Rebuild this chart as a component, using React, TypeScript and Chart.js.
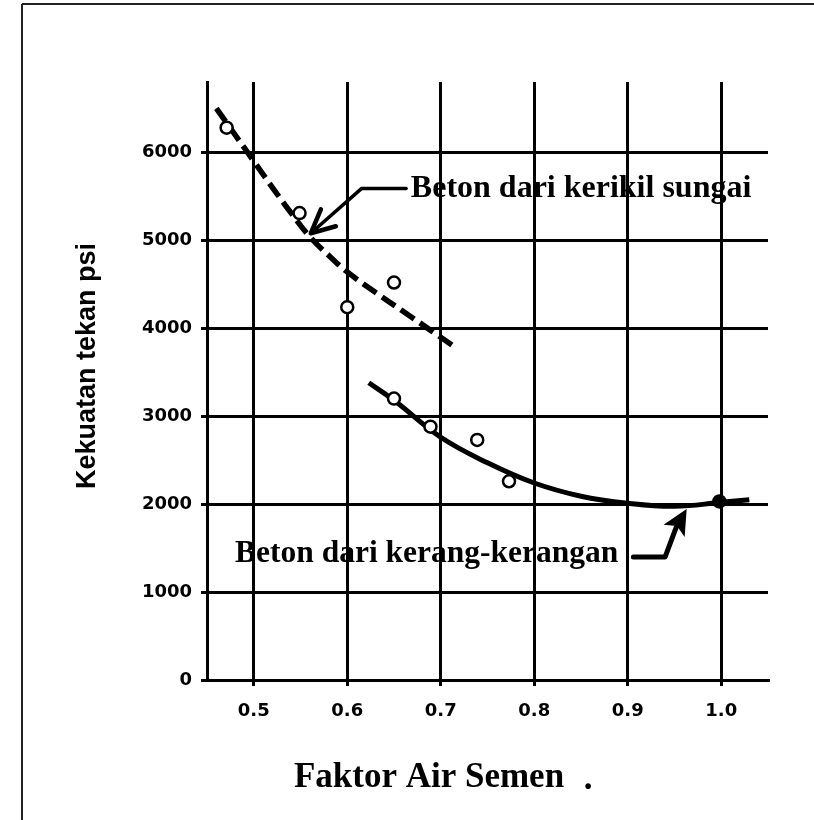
import React, { useEffect, useRef } from "react";
import { Chart, registerables } from "chart.js";

Chart.register(...registerables);

// Axis ticks
const xTickValues = [0.5, 0.6, 0.7, 0.8, 0.9, 1.0];
const yTickValues = [0, 1000, 2000, 3000, 4000, 5000, 6000];

// Measured points (open circles; last one filled)
const pointX = [0.471, 0.549, 0.6, 0.65, 0.65, 0.689, 0.739, 0.773, 0.998];
const pointY = [6280, 5310, 4240, 4520, 3200, 2880, 2730, 2260, 2030];
const pointFilled = [false, false, false, false, false, false, false, false, true];

// Dashed curve: Beton dari kerikil sungai
const riverX = [0.46, 0.48, 0.5, 0.52, 0.54, 0.56, 0.58, 0.6, 0.63, 0.66, 0.69, 0.713];
const riverY = [6500, 6200, 5900, 5600, 5310, 5040, 4830, 4640, 4410, 4190, 3970, 3800];

// Solid curve: Beton dari kerang-kerangan
const shellX = [0.623, 0.65, 0.7, 0.75, 0.8, 0.85, 0.9, 0.95, 1.0, 1.03];
const shellY = [3380, 3180, 2760, 2470, 2240, 2090, 2010, 1975, 2020, 2050];

// Annotations
const riverLabel = "Beton dari kerikil sungai";
const riverLabelPos = [0.668, 5590];
const riverArrowX = [0.663, 0.6155, 0.561];
const riverArrowY = [5590, 5590, 5080];

const shellLabel = "Beton dari kerang-kerangan";
const shellLabelPos = [0.48, 1440];
const shellArrowX = [0.906, 0.94, 0.952, 0.963];
const shellArrowY = [1400, 1400, 1740, 1944];

const xTitle = "Faktor Air Semen";
const yTitle = "Kekuatan tekan psi";

const backgroundPlugin = {
  id: "bgFrame",
  beforeDraw(chart: any) {
    const ctx = chart.ctx;
    ctx.save();
    ctx.fillStyle = "#fff";
    ctx.fillRect(0, 0, chart.width, chart.height);
    ctx.strokeStyle = "#222";
    ctx.lineWidth = 2;
    ctx.beginPath();
    ctx.moveTo(22, 4);
    ctx.lineTo(chart.width, 4);
    ctx.moveTo(22, 4);
    ctx.lineTo(22, chart.height);
    ctx.stroke();
    ctx.restore();
  },
};

const annotationPlugin = {
  id: "annotations",
  afterDraw(chart: any) {
    const ctx = chart.ctx;
    const xs = chart.scales.x;
    const ys = chart.scales.y;
    const px = (v: number) => xs.getPixelForValue(v);
    const py = (v: number) => ys.getPixelForValue(v);
    ctx.save();
    ctx.fillStyle = "#000";
    ctx.strokeStyle = "#000";
    ctx.lineCap = "round";
    ctx.lineJoin = "round";

    // river arrow
    ctx.lineWidth = 3.5;
    ctx.beginPath();
    riverArrowX.forEach((x, i) => {
      const X = px(x), Y = py(riverArrowY[i]);
      if (i === 0) ctx.moveTo(X, Y); else ctx.lineTo(X, Y);
    });
    ctx.stroke();
    {
      const n = riverArrowX.length;
      const tx = px(riverArrowX[n - 1]), ty = py(riverArrowY[n - 1]);
      const fx = px(riverArrowX[n - 2]), fy = py(riverArrowY[n - 2]);
      const ang = Math.atan2(ty - fy, tx - fx);
      const L = 26, a = 0.45;
      ctx.lineWidth = 4.5;
      ctx.beginPath();
      ctx.moveTo(tx - L * Math.cos(ang - a), ty - L * Math.sin(ang - a));
      ctx.lineTo(tx, ty);
      ctx.lineTo(tx - L * Math.cos(ang + a), ty - L * Math.sin(ang + a));
      ctx.stroke();
    }

    // shell arrow
    ctx.lineWidth = 5;
    ctx.beginPath();
    const n2 = shellArrowX.length;
    for (let i = 0; i < n2 - 1; i++) {
      const X = px(shellArrowX[i]), Y = py(shellArrowY[i]);
      if (i === 0) ctx.moveTo(X, Y); else ctx.lineTo(X, Y);
    }
    ctx.stroke();
    {
      const tx = px(shellArrowX[n2 - 1]), ty = py(shellArrowY[n2 - 1]);
      const fx = px(shellArrowX[n2 - 2]), fy = py(shellArrowY[n2 - 2]);
      const ang = Math.atan2(ty - fy, tx - fx);
      const L = 28, a = 0.45;
      ctx.beginPath();
      ctx.moveTo(tx, ty);
      ctx.lineTo(tx - L * Math.cos(ang - a), ty - L * Math.sin(ang - a));
      ctx.lineTo(tx - L * 0.7 * Math.cos(ang), ty - L * 0.7 * Math.sin(ang));
      ctx.lineTo(tx - L * Math.cos(ang + a), ty - L * Math.sin(ang + a));
      ctx.closePath();
      ctx.fill();
    }

    // labels
    ctx.font = "bold 32px 'Liberation Serif'";
    ctx.textAlign = "left";
    ctx.textBaseline = "middle";
    ctx.fillText(riverLabel, px(riverLabelPos[0]), py(riverLabelPos[1]));
    ctx.font = "bold 31.5px 'Liberation Serif'";
    ctx.fillText(shellLabel, px(shellLabelPos[0]), py(shellLabelPos[1]));

    // axis titles
    const area = chart.chartArea;
    ctx.font = "bold 35px 'Liberation Serif'";
    ctx.textAlign = "center";
    ctx.fillText(xTitle, area.left + 222, area.bottom + 98);
    ctx.fillText(".", area.left + 381, area.bottom + 100);

    ctx.save();
    ctx.translate(88, (area.top + area.bottom) / 2 - 15);
    ctx.rotate(-Math.PI / 2);
    ctx.font = "bold 27px 'Liberation Sans'";
    ctx.textAlign = "center";
    ctx.textBaseline = "middle";
    ctx.fillText(yTitle, 0, 0);
    ctx.restore();

    ctx.restore();
  },
};

export default function App() {
  const canvasRef = useRef<HTMLCanvasElement | null>(null);

  useEffect(() => {
    const canvas = canvasRef.current;
    if (!canvas) return;
    const tickFont = { family: "'DejaVu Sans'", weight: "bold" as const, size: 18 };
    const chart = new Chart(canvas, {
      type: "scatter",
      data: {
        datasets: [
          {
            type: "scatter",
            data: pointX.map((x, i) => ({ x, y: pointY[i] })),
            pointRadius: 6,
            pointBorderWidth: 2.5,
            pointBorderColor: "#000",
            pointBackgroundColor: pointFilled.map((f) => (f ? "#000" : "#fff")),
          } as any,
          {
            type: "line",
            data: riverX.map((x, i) => ({ x, y: riverY[i] })),
            borderColor: "#000",
            borderWidth: 5.5,
            borderDash: [16, 7],
            pointRadius: 0,
            tension: 0.4,
            fill: false,
          } as any,
          {
            type: "line",
            data: shellX.map((x, i) => ({ x, y: shellY[i] })),
            borderColor: "#000",
            borderWidth: 5,
            pointRadius: 0,
            tension: 0.4,
            fill: false,
          } as any,
        ],
      },
      options: {
        responsive: false,
        animation: false,
        layout: { padding: { left: 0, right: 46, top: 82, bottom: 0 } },
        plugins: { legend: { display: false }, tooltip: { enabled: false } },
        scales: {
          x: {
            type: "linear",
            min: 0.45,
            max: 1.05,
            afterBuildTicks: (s: any) => {
              s.ticks = xTickValues.map((v) => ({ value: v }));
            },
            afterFit: (s: any) => {
              s.height = 140;
            },
            ticks: {
              callback: (v: any) => Number(v).toFixed(1),
              font: tickFont,
              color: "#000",
              padding: 15,
              maxRotation: 0,
              autoSkip: false,
            },
            grid: { color: "#000", lineWidth: 3, tickLength: 6 },
            border: { color: "#000", width: 3 },
          },
          y: {
            type: "linear",
            min: 0,
            max: 6800,
            afterBuildTicks: (s: any) => {
              s.ticks = yTickValues.map((v) => ({ value: v }));
            },
            afterFit: (s: any) => {
              s.width = 207;
            },
            ticks: {
              callback: (v: any) => String(v),
              font: tickFont,
              color: "#000",
              padding: 9,
              autoSkip: false,
            },
            grid: { color: "#000", lineWidth: 3, tickLength: 6 },
            border: { color: "#000", width: 3 },
          },
        },
      } as any,
      plugins: [backgroundPlugin, annotationPlugin],
    });
    return () => chart.destroy();
  }, []);

  return (
    <div style={{ position: "absolute", left: 0, top: 0, width: 814, height: 820 }}>
      <canvas ref={canvasRef} width={814} height={820} style={{ display: "block" }} />
    </div>
  );
}
